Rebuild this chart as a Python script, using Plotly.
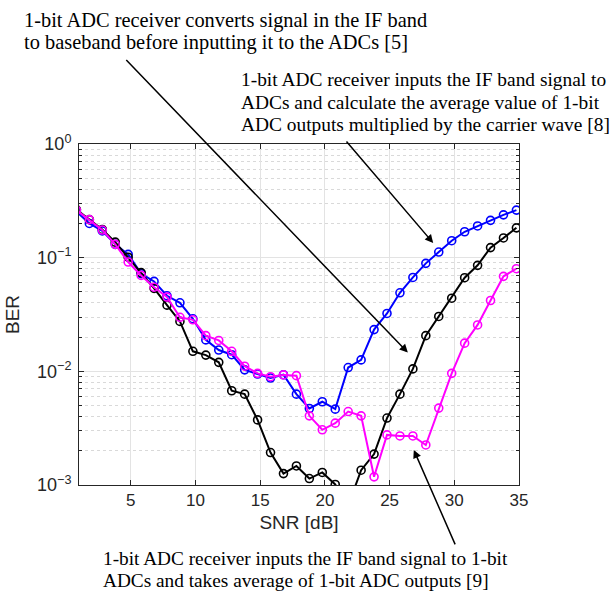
import plotly.graph_objects as go

# ---- data ----
snr = [0.8, 1.8, 2.8, 3.8, 4.8, 5.8, 6.8, 7.8, 8.8, 9.8,
       10.8, 11.8, 12.8, 13.8, 14.8, 15.8, 16.8, 17.8, 18.8, 19.8,
       20.8, 21.8, 22.8, 23.8, 24.8, 25.8, 26.8, 27.8, 28.8, 29.8,
       30.8, 31.8, 32.8, 33.8, 34.8]
ber_ref8 = [0.255, 0.200, 0.172, 0.131, 0.107, 0.0723, 0.0618, 0.0462, 0.0401, 0.029,
            0.0189, 0.0154, 0.0140, 0.0103, 0.00947, 0.00873, 0.00933, 0.0063, 0.00471, 0.0054,
            0.00465, 0.0108, 0.0126, 0.0233, 0.0323, 0.0491, 0.067, 0.0891, 0.112, 0.141,
            0.169, 0.19, 0.213, 0.238, 0.262]
ber_ref5 = [0.265, 0.216, 0.177, 0.137, 0.101, 0.0738, 0.0537, 0.0382, 0.0275, 0.0150,
            0.0139, 0.0120, 0.00675, 0.0063, 0.00374, 0.00193, 0.00126, 0.00147, 0.00114, 0.00129,
            0.00101, 0.00066, 0.00135, 0.00187, 0.00388, 0.0063, 0.0105, 0.0206, 0.0304, 0.044,
            0.0666, 0.0856, 0.1226, 0.149, 0.183]
ber_ref9 = [0.262, 0.216, 0.175, 0.131, 0.0916, 0.0698, 0.055, 0.045, 0.0299, 0.0284,
            0.0206, 0.0187, 0.0150, 0.0111, 0.0096, 0.00897, 0.0093, 0.00916, 0.00406, 0.00306,
            0.0035, 0.00443, 0.00406, 0.00118, 0.00276, 0.0027, 0.0027, 0.00225, 0.00475, 0.0096,
            0.0177, 0.0256, 0.042, 0.0685, 0.08]

x_ticks = [5, 10, 15, 20, 25, 30, 35]
y_tickvals = [1e-3, 1e-2, 1e-1, 1e0]
y_ticktext = ["10<sup>−3</sup>", "10<sup>−2</sup>", "10<sup>−1</sup>", "10<sup>0</sup>"]

text_5 = ["1-bit ADC receiver converts signal in the IF band",
          "to baseband before inputting it to the ADCs [5]"]
text_8 = ["1-bit ADC receiver inputs the IF band signal to",
          "ADCs and calculate the average value of 1-bit",
          "ADC outputs multiplied by the carrier wave [8]"]
text_9 = ["1-bit ADC receiver inputs the IF band signal to 1-bit",
          "ADCs and takes average of 1-bit ADC outputs [9]"]

W, H = 612, 597
L, R, T, B = 79, 519, 144, 485

fig = go.Figure()
for ys, col in [(ber_ref8, "#0000FF"), (ber_ref5, "#000000"), (ber_ref9, "#FF00FF")]:
    fig.add_trace(go.Scatter(
        x=snr, y=ys, mode="lines+markers",
        line=dict(color=col, width=2),
        marker=dict(symbol="circle-open", size=8, color=col, line=dict(width=1.6, color=col)),
        showlegend=False))


def px2paper(px, py):
    return (px - L) / (R - L), (B - py) / (B - T)


annots = []


def add_lines(lines, x0, y0, dy, size):
    font = dict(family="Liberation Serif, Times New Roman, serif", size=size, color="black")
    for i, s in enumerate(lines):
        xp, yp = px2paper(x0, y0 + i * dy)
        annots.append(dict(text=s, x=xp, y=yp, xref="paper", yref="paper",
                           xanchor="left", yanchor="middle", showarrow=False, font=font))


add_lines(text_5, 22, 20, 22, 20.4)
add_lines(text_8, 239, 80, 22, 19.4)
add_lines(text_9, 101, 558, 22, 19.3)

arrow = dict(showarrow=True, arrowhead=2, arrowsize=1.1, arrowwidth=1.5, arrowcolor="black",
             text="", xref="x", yref="y", axref="pixel", ayref="pixel")
annots.append(dict(arrow, x=26.41, y=-1.835, ax=-283, ay=-294))
annots.append(dict(arrow, x=28.37, y=-0.871, ax=-88, ay=-103))
annots.append(dict(arrow, x=26.87, y=-2.691, ax=42, ay=96))

axis_col = "#262626"
sans = dict(family="Liberation Sans, Arial, sans-serif", size=17, color=axis_col)
sans_y = dict(family="Liberation Sans, Arial, sans-serif", size=18, color=axis_col)

fig.update_layout(
    width=W, height=H,
    margin=dict(l=L, r=W - R, t=T, b=H - B, pad=0),
    paper_bgcolor="white", plot_bgcolor="white",
    annotations=annots,
    font=sans,
    xaxis=dict(range=[1, 35], tickvals=x_ticks, ticks="inside", ticklen=5, tickcolor=axis_col,
               showline=True, linecolor=axis_col, linewidth=1, mirror="ticks",
               showgrid=True, gridcolor="#e3e3e3", gridwidth=1, zeroline=False,
               tickfont=sans,
               title=dict(text="SNR [dB]", font=dict(family=sans["family"], size=19, color=axis_col), standoff=6)),
    yaxis=dict(type="log", range=[-3, 0], tickvals=y_tickvals, ticktext=y_ticktext,
               ticks="inside", ticklen=5, tickcolor=axis_col, ticklabelstandoff=3,
               showline=True, linecolor=axis_col, linewidth=1, mirror="ticks",
               showgrid=True, gridcolor="#e3e3e3", gridwidth=1, zeroline=False,
               tickfont=sans_y,
               minor=dict(ticks="inside", ticklen=3, tickcolor=axis_col, showgrid=True,
                          gridcolor="#d9d9d9", griddash="dot", gridwidth=1, dtick="D1"),
               title=dict(text="BER", font=dict(family=sans["family"], size=19, color=axis_col), standoff=12)),
)

fig.write_html("out.html", config={"displayModeBar": False},
               post_script="document.body.style.margin='0';document.body.style.overflow='hidden';")
